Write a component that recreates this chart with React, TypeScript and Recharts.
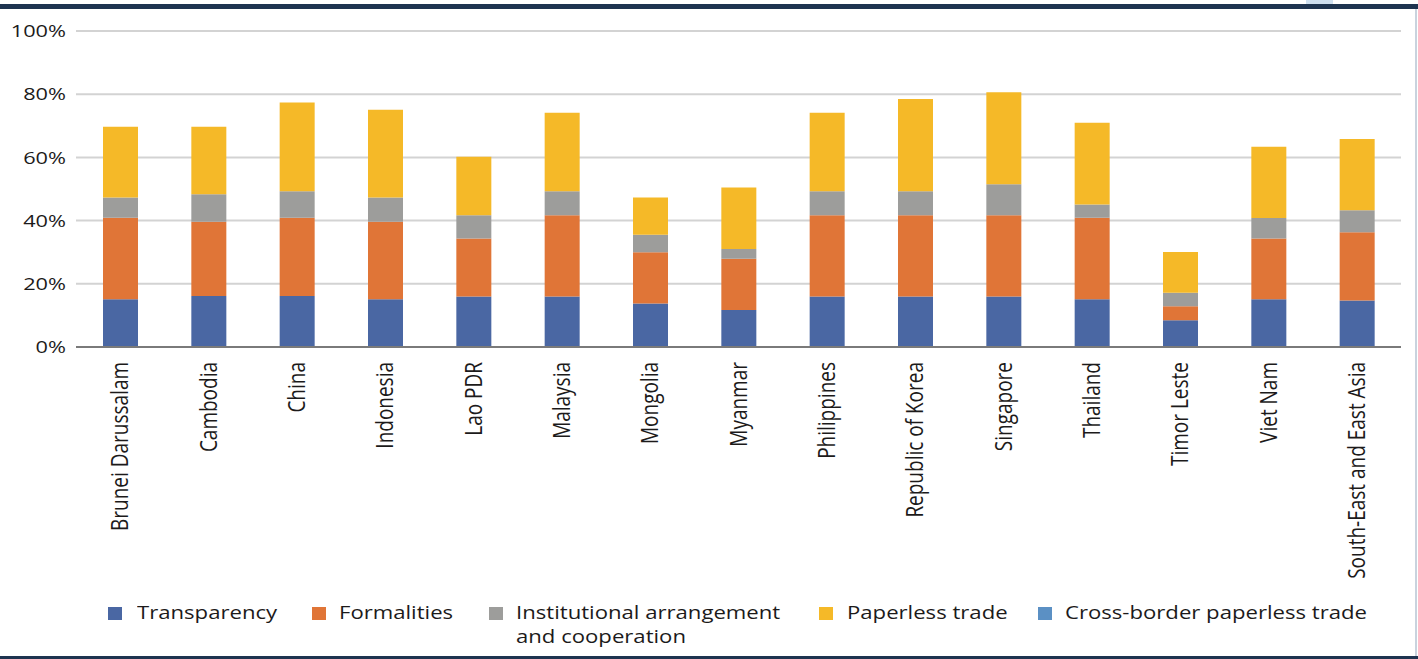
import { Bar, BarChart, CartesianGrid, XAxis, YAxis } from "recharts";

const categories = [
  "Brunei Darussalam",
  "Cambodia",
  "China",
  "Indonesia",
  "Lao PDR",
  "Malaysia",
  "Mongolia",
  "Myanmar",
  "Philippines",
  "Republic of Korea",
  "Singapore",
  "Thailand",
  "Timor Leste",
  "Viet Nam",
  "South-East and East Asia",
];

const transparency = [15.1, 16.1, 16.1, 15.1, 16.0, 16.0, 13.8, 11.7, 16.0, 16.0, 16.0, 15.1, 8.5, 15.1, 14.7];
const formalities = [25.8, 23.5, 24.8, 24.5, 18.3, 25.7, 16.2, 16.2, 25.7, 25.7, 25.7, 25.8, 4.4, 19.2, 21.6];
const institutional = [6.4, 8.7, 8.4, 7.7, 7.4, 7.6, 5.5, 3.1, 7.6, 7.6, 9.8, 4.2, 4.3, 6.5, 7.0];
const paperless = [22.4, 21.4, 28.1, 27.8, 18.5, 24.8, 11.8, 19.5, 24.8, 29.2, 29.1, 25.9, 12.9, 22.6, 22.5];
const crossBorder = [0, 0, 0, 0, 0, 0, 0, 0, 0, 0, 0, 0, 0, 0, 0];

const yTicks = [0, 20, 40, 60, 80, 100];

const series = [
  { key: "transparency", name: "Transparency", color: "#4a67a3", values: transparency },
  { key: "formalities", name: "Formalities", color: "#e07537", values: formalities },
  { key: "institutional", name: "Institutional arrangement\nand cooperation", color: "#9d9d9b", values: institutional },
  { key: "paperless", name: "Paperless trade", color: "#f5b928", values: paperless },
  { key: "crossBorder", name: "Cross-border paperless trade", color: "#5b90c4", values: crossBorder },
];

const data = categories.map((name, i) => {
  const row: Record<string, string | number> = { name };
  series.forEach((s) => {
    row[s.key] = s.values[i];
  });
  return row;
});

// the original graphic is stretched sideways, so text is too
const STRETCH = 1.28;
const FONT = "'Open Sans', 'Noto Sans', sans-serif";
const TEXT = "#1c1a1a";

function CategoryTick({ x, y, payload }: { x?: number; y?: number; payload?: { value: string } }) {
  return (
    <g transform={`translate(${x},${y})`}>
      <text
        transform="scale(1.2,1) rotate(-90)"
        textAnchor="end"
        dy="0.36em"
        fontSize={19}
        fontFamily={FONT}
        fill={TEXT}
      >
        {payload?.value}
      </text>
    </g>
  );
}

function PercentTick({ x, y, payload }: { x?: number; y?: number; payload?: { value: number } }) {
  return (
    <text
      transform={`translate(${x},${y}) scale(${STRETCH},1)`}
      textAnchor="end"
      dy="0.36em"
      fontSize={17}
      fontFamily={FONT}
      fill={TEXT}
    >
      {`${payload?.value}%`}
    </text>
  );
}

const legendPos = [
  { marker: 108, text: 137 },
  { marker: 312, text: 339 },
  { marker: 489, text: 516 },
  { marker: 819, text: 847 },
  { marker: 1038, text: 1065 },
];

function ChartLegend() {
  return (
    <div style={{ position: "absolute", left: 0, top: 602, width: 1418, height: 54 }}>
      {series.map((s, i) => (
        <div key={s.key}>
          <div
            style={{
              position: "absolute",
              left: legendPos[i].marker,
              top: 5,
              width: 14,
              height: 13,
              background: s.color,
            }}
          />
          <div
            style={{
              position: "absolute",
              left: legendPos[i].text,
              top: -1,
              fontFamily: FONT,
              fontSize: 17.3,
              lineHeight: "24px",
              color: TEXT,
              whiteSpace: "pre",
              transform: `scaleX(${STRETCH})`,
              transformOrigin: "left top",
            }}
          >
            {s.name}
          </div>
        </div>
      ))}
    </div>
  );
}

export default function App() {
  return (
    <div style={{ position: "absolute", left: 0, top: 0, width: 1418, height: 659, background: "#fff", overflow: "hidden" }}>
      <div style={{ position: "absolute", left: 1306, top: 0, width: 27, height: 4, background: "#cfe0f0" }} />
      <div style={{ position: "absolute", left: 0, top: 4, width: 1418, height: 5, background: "#1e3450" }} />
      <div style={{ position: "absolute", left: 1415, top: 9, width: 2, height: 647, background: "#c9d3de" }} />
      <div style={{ position: "absolute", left: 0, top: 656, width: 1418, height: 3, background: "#1e3450" }} />
      <BarChart
        width={1418}
        height={659}
        data={data}
        margin={{ top: 31, right: 17, bottom: 0, left: 0 }}
        barSize={35}
      >
        <CartesianGrid vertical={false} stroke="#d3d3d3" strokeWidth={2} />
        <XAxis
          dataKey="name"
          interval={0}
          height={312}
          tickSize={0}
          tickMargin={15}
          axisLine={{ stroke: "#7a7a7a", strokeWidth: 2 }}
          tickLine={false}
          tick={<CategoryTick />}
        />
        <YAxis
          domain={[0, 100]}
          ticks={yTicks}
          width={76}
          tickSize={0}
          tickMargin={10}
          axisLine={false}
          tickLine={false}
          tick={<PercentTick />}
        />
        {series.map((s) => (
          <Bar key={s.key} dataKey={s.key} name={s.name} stackId="a" fill={s.color} isAnimationActive={false} />
        ))}
      </BarChart>
      <ChartLegend />
    </div>
  );
}
